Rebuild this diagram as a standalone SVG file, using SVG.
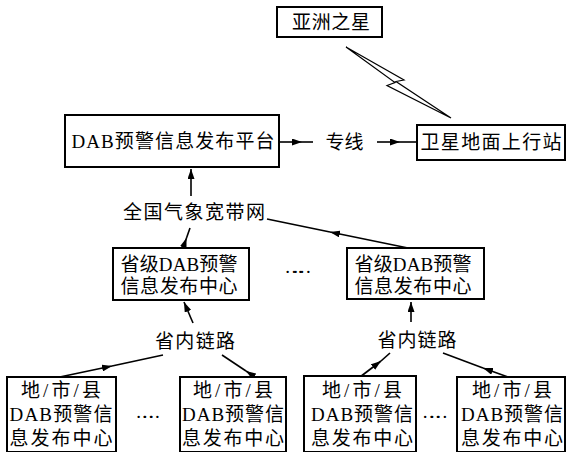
<svg xmlns="http://www.w3.org/2000/svg" width="567" height="452" viewBox="0 0 567 452">
<style>
.box{fill:#fff;stroke:#000;stroke-width:2}
.t{font-family:"Liberation Serif","Noto Sans CJK SC",serif;font-size:19px;fill:#000;text-anchor:middle;dominant-baseline:central}
.ln{fill:none;stroke:#000;stroke-width:1.6}
.ar{fill:none;stroke:#000;stroke-width:1.6;marker-end:url(#ah)}
</style>
<defs>
<marker id="ah" viewBox="0 0 10 7" refX="10" refY="3.5" markerWidth="10" markerHeight="7" markerUnits="userSpaceOnUse" orient="auto">
<path d="M0,0 L10,3.5 L0,7 z" fill="#000"/>
</marker>
</defs>
<g id="connectors">
<polygon points="346,47 404,80 396,81.5 451,118 387,85.5 395,82.5" fill="#fff" stroke="#000" stroke-width="1.2"/>
<path class="ar" d="M279,142 L302,142"/><path class="ln" d="M302,142 L313,142"/>
<path class="ar" d="M377,142 L400,142"/><path class="ln" d="M400,142 L417,142"/>
<path class="ar" d="M191,196 L191,169"/>
<path class="ar" d="M183,248 L186.5,238"/><path class="ln" d="M186.5,238 L190,228"/>
<path class="ar" d="M408,248 L330,232"/><path class="ln" d="M330,232 L267,219"/>
<path class="ar" d="M193,323 L184,302"/>
<path class="ar" d="M411,322 L411,302"/>
<path class="ar" d="M55,378 L112,366"/><path class="ln" d="M112,366 L163,355"/>
<path class="ar" d="M255,377 L246,371"/><path class="ln" d="M246,371 L222,355"/>
<path class="ar" d="M360,377 L381,361"/><path class="ln" d="M381,361 L390,353"/>
<path class="ar" d="M508,377 L483,368"/><path class="ln" d="M483,368 L443,353"/>
</g>
<g id="asiastar">
<rect class="box" x="277" y="7" width="105" height="30"/>
<text class="t" x="331" y="22" textLength="78">亚洲之星</text>
</g>
<g id="platform">
<rect class="box" x="65" y="115" width="214" height="52"/>
<text class="t" x="173" y="141" textLength="203">DAB预警信息发布平台</text>
</g>
<g id="leased-line">
<text class="t" x="344.5" y="142" textLength="38">专线</text>
</g>
<g id="uplink">
<rect class="box" x="417" y="125" width="148" height="35"/>
<text class="t" x="491" y="142" textLength="141">卫星地面上行站</text>
</g>
<g id="network">
<text class="t" x="194" y="212" textLength="142">全国气象宽带网</text>
</g>
<g id="prov-left">
<rect class="box" x="113" y="248" width="136" height="52"/>
<text class="t" x="179" y="264" textLength="117">省级DAB预警</text>
<text class="t" x="179" y="286" textLength="117">信息发布中心</text>
</g>
<g id="prov-dots">
<text class="t" x="298" y="266" textLength="27">……</text>
</g>
<g id="prov-right">
<rect class="box" x="347" y="248" width="137" height="51"/>
<text class="t" x="413" y="264" textLength="117">省级DAB预警</text>
<text class="t" x="413" y="286" textLength="117">信息发布中心</text>
</g>
<g id="link-left">
<text class="t" x="195" y="341" textLength="80">省内链路</text>
</g>
<g id="link-right">
<text class="t" x="417" y="340" textLength="79">省内链路</text>
</g>
<g id="local1">
<rect class="box" x="7" y="377" width="109" height="75"/>
<text class="t" x="61" y="390" textLength="80">地/市/县</text>
<text class="t" x="61" y="414" textLength="103">DAB预警信</text>
<text class="t" x="61" y="438" textLength="103">息发布中心</text>
</g>
<g id="local-dots-left">
<text class="t" x="148" y="411" textLength="25">……</text>
</g>
<g id="local2">
<rect class="box" x="180" y="377" width="106" height="75"/>
<text class="t" x="233" y="390" textLength="80">地/市/县</text>
<text class="t" x="233" y="414" textLength="102">DAB预警信</text>
<text class="t" x="233" y="438" textLength="102">息发布中心</text>
</g>
<g id="local3">
<rect class="box" x="304" y="376" width="112" height="76"/>
<text class="t" x="362" y="390" textLength="80">地/市/县</text>
<text class="t" x="362" y="414" textLength="102">DAB预警信</text>
<text class="t" x="362" y="438" textLength="102">息发布中心</text>
</g>
<g id="local-dots-right">
<text class="t" x="435" y="411" textLength="26">……</text>
</g>
<g id="local4">
<rect class="box" x="457" y="377" width="108" height="75"/>
<text class="t" x="512" y="390" textLength="80">地/市/县</text>
<text class="t" x="512" y="414" textLength="102">DAB预警信</text>
<text class="t" x="512" y="438" textLength="102">息发布中心</text>
</g>
</svg>
